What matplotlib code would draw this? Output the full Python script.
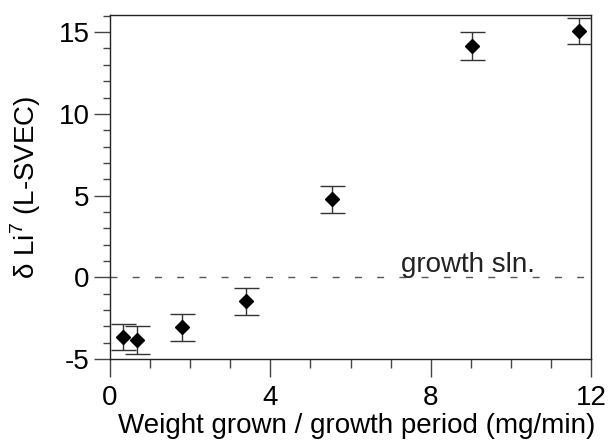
import matplotlib
matplotlib.use("Agg")
import matplotlib.pyplot as plt
from matplotlib.ticker import MultipleLocator

plt.rcParams['font.family'] = ['Liberation Sans', 'DejaVu Sans']
plt.rcParams['axes.unicode_minus'] = False
plt.rcParams['mathtext.fontset'] = 'custom'
plt.rcParams['mathtext.rm'] = 'Liberation Sans'

# data
growth_rate = [0.33, 0.67, 1.79, 3.4, 5.53, 9.03, 11.7]  # mg/min
delta_li = [-3.66, -3.84, -3.07, -1.46, 4.76, 14.15, 15.06]
delta_err = [0.8, 0.86, 0.84, 0.83, 0.85, 0.87, 0.8]

fig = plt.figure(figsize=(6.13, 4.41), dpi=100)
ax = fig.add_axes([0.1794, 0.186, 0.785, 0.78])

ax.axhline(0, color="#555555", lw=1, ls=(0, (5, 11)), zorder=1)
ax.text(7.25, 0.3, "growth sln.", fontsize=20, color="#222222", va="baseline")

ax.errorbar(growth_rate, delta_li, yerr=delta_err, fmt="D", color="black",
            ms=7.5, ecolor="#333333", elinewidth=1, capsize=9, capthick=1, zorder=3)

ax.set_xlim(0, 12)
ax.set_ylim(-5, 16.05)
ax.xaxis.set_major_locator(MultipleLocator(4))
ax.xaxis.set_minor_locator(MultipleLocator(1))
ax.yaxis.set_major_locator(MultipleLocator(5))
ax.yaxis.set_minor_locator(MultipleLocator(1))
ax.tick_params(which="both", direction="out", width=1, color="#444444", labelsize=20)
ax.tick_params(axis="x", which="major", length=13, pad=6)
ax.tick_params(axis="x", which="minor", length=6.5)
ax.tick_params(axis="y", which="major", length=11.5, pad=3)
ax.tick_params(axis="y", which="minor", length=5)

for s in ax.spines.values():
    s.set_color("#222222")
    s.set_linewidth(1)

ax.set_xlabel("Weight grown / growth period (mg/min)", fontsize=20)
ax.xaxis.set_label_coords(0.512, -0.158)
ax.set_ylabel("δ Li$^{\\mathrm{7}}$ (L-SVEC)", fontsize=20)
ax.yaxis.set_label_coords(-0.14, 0.5)

fig.savefig("out.png", dpi=100)
